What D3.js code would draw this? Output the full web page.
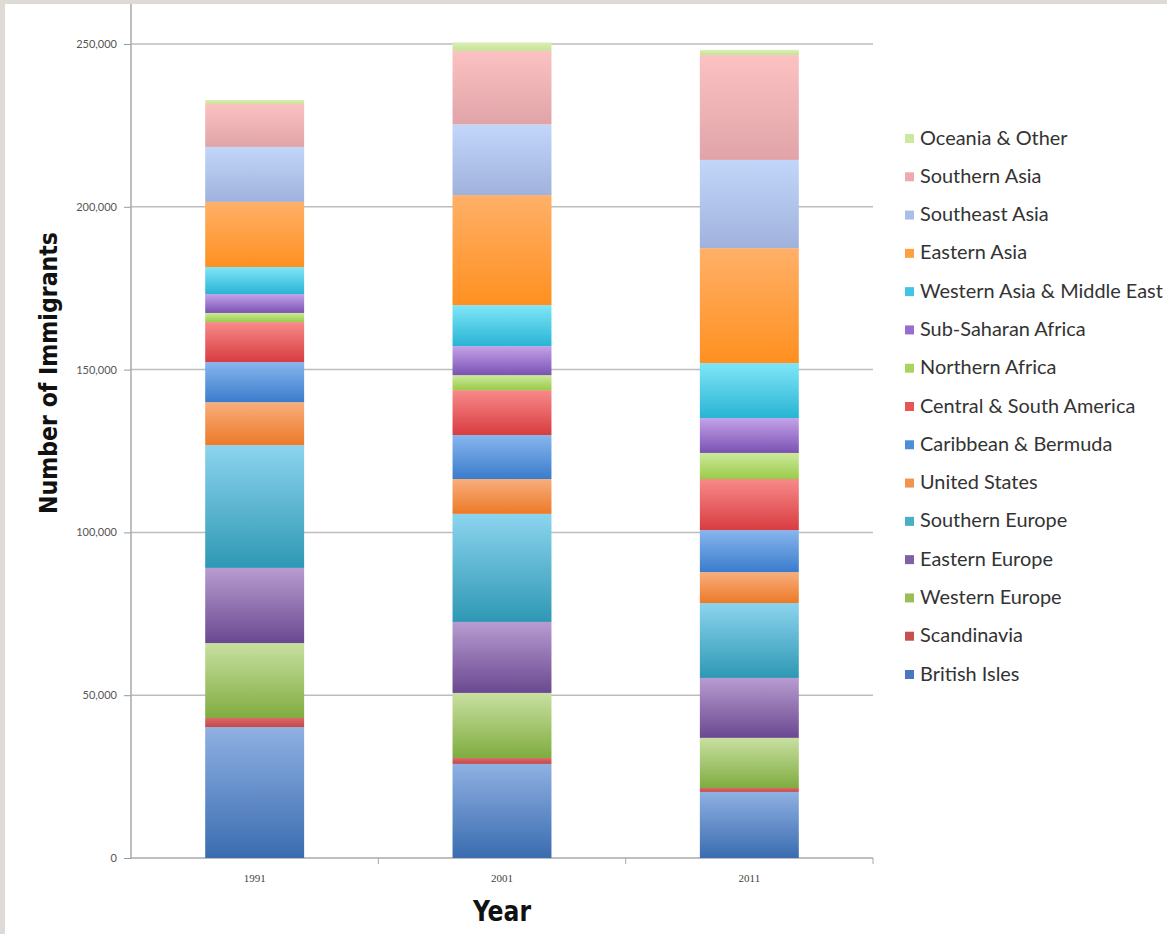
<!DOCTYPE html>
<html>
<head>
<meta charset="utf-8">
<script src="https://cdn.jsdelivr.net/npm/d3@7"></script>
<style>
  body { margin: 0; background: #ffffff; }
  svg { display: block; }
</style>
</head>
<body>
<svg id="chart" width="1167" height="934"></svg>
<script>
// Immigrants by region of birth, stacked bottom -> top

const years = ['1991', '2001', '2011'];

const regions = [
    'British Isles', 'Scandinavia', 'Western Europe', 'Eastern Europe', 'Southern Europe',
    'United States', 'Caribbean & Bermuda', 'Central & South America', 'Northern Africa',
    'Sub-Saharan Africa', 'Western Asia & Middle East', 'Eastern Asia', 'Southeast Asia',
    'Southern Asia', 'Oceania & Other'
];

// values per region, in order of years
const britishIsles   = [40200, 28900, 20300];
const scandinavia    = [2800, 1800, 1200];
const westernEurope  = [23000, 20000, 15400];
const easternEurope  = [23100, 21800, 18400];
const southernEurope = [37700, 33200, 23000];
const unitedStates   = [13200, 10700, 9500];
const caribbean      = [12300, 13500, 12900];
const centralSouthAm = [12300, 13800, 15700];
const northernAfrica = [2800, 4600, 8000];
const subSaharan     = [5800, 8900, 10700];
const westernAsia    = [8300, 12600, 16900];
const easternAsia    = [20000, 33800, 35300];
const southeastAsia  = [16900, 21700, 27100];
const southernAsia   = [13200, 22600, 32200];
const oceania        = [1200, 2600, 1600];

const seriesValues = [britishIsles, scandinavia, westernEurope, easternEurope, southernEurope,
    unitedStates, caribbean, centralSouthAm, northernAfrica, subSaharan, westernAsia,
    easternAsia, southeastAsia, southernAsia, oceania];

const yTicks = [0, 50000, 100000, 150000, 200000, 250000];

// gradient top / bottom colours per region
const colorsTop = ['#8fb0e2', '#dc6a68', '#c8e0a0', '#b89cd0', '#8cd4ee', '#f8ae7c', '#88b6ee',
    '#f88a8a', '#cce89c', '#c4a2e8', '#80e6f8', '#ffb068', '#c2d6fa', '#fcc2c2', '#dcefb4'];
const colorsBottom = ['#3a6cb0', '#c04848', '#80ac40', '#6a4890', '#2e98b4', '#ec7a28', '#3a7ccc',
    '#d83c40', '#9acc48', '#7a52b4', '#28b4d4', '#ff9020', '#a0b2dc', '#e0a4a8', '#c4e296'];
const colorsLegend = ['#4a78c0', '#c8504e', '#9cbc5a', '#7e62a4', '#4aaec6', '#f29450', '#4e8ed8',
    '#e65656', '#aad460', '#9a6cd0', '#42c4e4', '#ffa040', '#aabee8', '#eeaab0', '#cfe8a0'];

const svg = d3.select('#chart');

// grey frame at the top and left edge
svg.append('rect').attr('x', 0).attr('y', 0).attr('width', 1167).attr('height', 934).attr('fill', '#dedad6');
svg.append('rect').attr('x', 5).attr('y', 4).attr('width', 1162).attr('height', 930).attr('fill', '#ffffff');

const plot = { left: 131, right: 873, top: 44, bottom: 858 };

const x = d3.scaleBand()
    .domain(years)
    .range([plot.left, plot.right])
    .paddingInner(0.6)
    .paddingOuter(0.3);

const y = d3.scaleLinear()
    .domain([0, 250000])
    .range([plot.bottom, plot.top]);

// gradients
const defs = svg.append('defs');
regions.forEach((r, i) => {
    const g = defs.append('linearGradient')
        .attr('id', 'grad' + i)
        .attr('x1', 0).attr('y1', 0).attr('x2', 0).attr('y2', 1);
    g.append('stop').attr('offset', '0%').attr('stop-color', colorsTop[i]);
    g.append('stop').attr('offset', '100%').attr('stop-color', colorsBottom[i]);
});

// gridlines
svg.append('g')
    .selectAll('line')
    .data(yTicks.slice(1))
    .enter()
    .append('line')
    .attr('x1', plot.left).attr('x2', plot.right)
    .attr('y1', d => y(d)).attr('y2', d => y(d))
    .attr('stroke', '#bdbdbd')
    .attr('stroke-width', 1.5);

// y axis
const yAxis = svg.append('g')
    .attr('transform', `translate(${plot.left},0)`)
    .call(d3.axisLeft(y).tickValues(yTicks).tickSize(7).tickPadding(7).tickFormat(d3.format(',')));
yAxis.select('.domain').remove();
yAxis.selectAll('line').attr('stroke', '#999');
yAxis.selectAll('text')
    .attr('font-family', 'Lato, "Open Sans", sans-serif')
    .attr('font-size', 11)
    .attr('fill', '#555');
svg.append('line')
    .attr('x1', plot.left).attr('x2', plot.left)
    .attr('y1', 4).attr('y2', plot.bottom)
    .attr('stroke', '#a8a8a8').attr('stroke-width', 1.5);

// x axis
const xAxis = svg.append('g')
    .attr('transform', `translate(0,${plot.bottom})`)
    .call(d3.axisBottom(x).tickSize(0).tickPadding(16));
xAxis.select('.domain').remove();
xAxis.selectAll('text')
    .attr('font-family', '"Liberation Serif", serif')
    .attr('font-size', 11)
    .attr('fill', '#444');
svg.append('line')
    .attr('x1', plot.left).attr('x2', plot.right)
    .attr('y1', plot.bottom).attr('y2', plot.bottom)
    .attr('stroke', '#a8a8a8').attr('stroke-width', 1.5);
// category separator ticks
const step = x.step();
svg.append('g')
    .selectAll('line')
    .data(years)
    .enter()
    .append('line')
    .attr('x1', d => x(d) + x.bandwidth() / 2 + step / 2)
    .attr('x2', d => x(d) + x.bandwidth() / 2 + step / 2)
    .attr('y1', plot.bottom).attr('y2', plot.bottom + 6)
    .attr('stroke', '#a8a8a8');

// stacked bars
const table = years.map((yr, j) => {
    const row = { year: yr };
    regions.forEach((r, i) => { row[r] = seriesValues[i][j]; });
    return row;
});
const stacked = d3.stack().keys(regions)(table);

svg.append('g')
    .selectAll('g')
    .data(stacked)
    .enter()
    .append('g')
    .attr('fill', (d, i) => `url(#grad${i})`)
    .selectAll('rect')
    .data(d => d)
    .enter()
    .append('rect')
    .attr('x', d => x(d.data.year))
    .attr('width', x.bandwidth())
    .attr('y', d => y(d[1]))
    .attr('height', d => y(d[0]) - y(d[1]));

// legend, top entry is last region
const legendOrder = regions.map((r, i) => i).reverse();
const legendFont = 'Lato, "Open Sans", sans-serif';
const legend = svg.append('g');
const rowY = d3.scalePoint().domain(legendOrder).range([139, 675]);

legend.selectAll('rect')
    .data(legendOrder)
    .enter()
    .append('rect')
    .attr('x', 905)
    .attr('y', i => rowY(i) - 5)
    .attr('width', 9).attr('height', 9)
    .attr('fill', i => colorsLegend[i]);

const legendText = legend.selectAll('text')
    .data(legendOrder)
    .enter()
    .append('text')
    .attr('x', 920)
    .attr('y', i => rowY(i) + 5.5)
    .attr('font-family', legendFont)
    .attr('font-size', 16)
    .attr('fill', '#333')
    .text(i => regions[i]);

// size the legend so the longest label reaches the right edge like the original
const longest = legendText.filter(i => regions[i] === 'Western Asia & Middle East').node();
const fs = 16 * 243 / longest.getComputedTextLength();
legendText.attr('font-size', fs);

// axis titles
svg.append('text')
    .attr('transform', 'translate(57,373) rotate(-90)')
    .attr('text-anchor', 'middle')
    .attr('font-family', '"Liberation Sans Narrow", "DejaVu Sans Condensed", "Open Sans", sans-serif')
    .attr('font-weight', 'bold')
    .attr('font-size', 25)
    .attr('fill', '#111')
    .attr('textLength', 282)
    .attr('lengthAdjust', 'spacingAndGlyphs')
    .text('Number of Immigrants');

svg.append('text')
    .attr('x', 502)
    .attr('y', 921)
    .attr('text-anchor', 'middle')
    .attr('font-family', '"Liberation Sans Narrow", "DejaVu Sans Condensed", "Open Sans", sans-serif')
    .attr('font-weight', 'bold')
    .attr('font-size', 28)
    .attr('fill', '#111')
    .attr('textLength', 58)
    .attr('lengthAdjust', 'spacingAndGlyphs')
    .text('Year');
</script>
</body>
</html>
